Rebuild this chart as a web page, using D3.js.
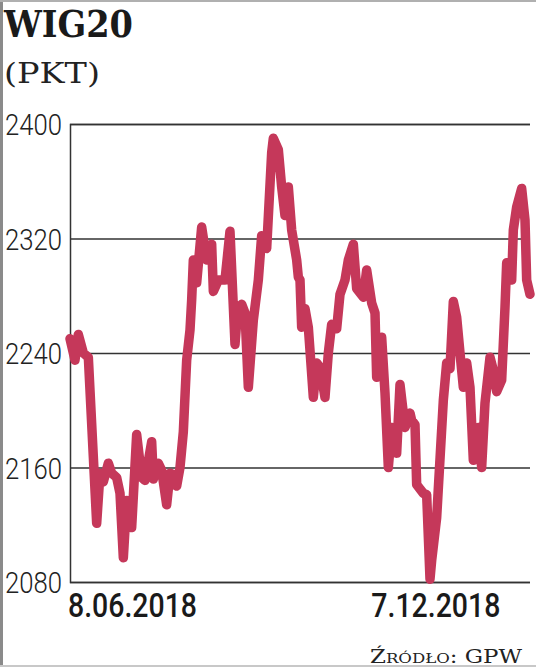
<!DOCTYPE html>
<html>
<head>
<meta charset="utf-8">
<script src="https://cdn.jsdelivr.net/npm/d3@7"></script>
<style>
  body { margin: 0; background: #fff; }
  svg { display: block; }
</style>
</head>
<body>
<svg id="chart" width="536" height="667"></svg>
<script>
// Data: days since 8.06.2018 and WIG20 close (pkt)
const dayOffsets = [0, 3, 5, 8, 11, 16, 18, 20, 23, 25, 28, 30, 32, 34, 37, 40, 43, 45, 49, 50,
    53, 55, 58, 60, 62, 64, 66, 68, 70, 72, 73, 74, 76, 79, 82, 85, 86, 89, 93, 96,
    99, 100, 103, 105, 107, 110, 113, 115, 118, 121, 122, 125, 127, 129, 131, 133, 136, 137, 138, 139,
    141, 143, 146, 148, 150, 153, 155, 157, 160, 162, 165, 167, 170, 172, 174, 176, 178, 181, 183, 184,
    187, 189, 191, 193, 196, 198, 201, 204, 205, 207, 208, 212, 214, 216, 217, 220, 224, 226, 228, 230,
    232, 234, 236, 238, 240, 242, 245, 247, 249, 252, 254, 256, 259, 261, 262, 265, 266, 268, 271, 273,
    274, 276];
const values = [2250, 2235, 2253, 2240, 2237, 2121, 2156, 2150, 2163, 2156, 2153, 2142, 2097, 2137, 2118, 2183, 2153, 2151, 2178, 2152,
    2163, 2158, 2134, 2156, 2155, 2147, 2160, 2185, 2235, 2256, 2277, 2305, 2289, 2328, 2305, 2316, 2283, 2291, 2291, 2325,
    2246, 2261, 2274, 2268, 2216, 2263, 2291, 2322, 2313, 2380, 2390, 2382, 2356, 2336, 2356, 2326, 2305, 2293, 2291, 2258,
    2271, 2258, 2209, 2233, 2230, 2209, 2240, 2260, 2257, 2281, 2291, 2305, 2316, 2285, 2282, 2279, 2298, 2275, 2268, 2223,
    2251, 2212, 2160, 2188, 2170, 2218, 2188, 2198, 2193, 2190, 2148, 2142, 2141, 2082, 2095, 2125, 2207, 2233, 2229, 2276,
    2265, 2240, 2216, 2233, 2216, 2165, 2188, 2160, 2205, 2237, 2228, 2213, 2221, 2272, 2303, 2291, 2326, 2342, 2355, 2333,
    2291, 2281];

const yTicks = [2080, 2160, 2240, 2320, 2400];
const xTickDays = [0, 182];
const xTickLabels = ["8.06.2018", "7.12.2018"];

const svg = d3.select("#chart");
const W = 536, H = 667;
const plot = { left: 70, right: 530, top: 124, bottom: 582 };

// page frame (grey edges of the clipping)
svg.append("line").attr("x1", 1.5).attr("x2", 1.5).attr("y1", 0).attr("y2", H)
    .attr("stroke", "#8a8a8a").attr("stroke-width", 3);
svg.append("line").attr("x1", 0).attr("x2", W).attr("y1", 1).attr("y2", 1)
    .attr("stroke", "#b0b0b0").attr("stroke-width", 2);
svg.append("line").attr("x1", 0).attr("x2", W).attr("y1", H - 1).attr("y2", H - 1)
    .attr("stroke", "#c8c8c8").attr("stroke-width", 2);

// Scales
const x = d3.scaleLinear()
    .domain([0, d3.max(dayOffsets)])
    .range([plot.left, plot.right]);

const y = d3.scaleLinear()
    .domain([2080, 2400])
    .range([plot.bottom, plot.top]);

// Title
svg.append("text")
    .attr("x", 4).attr("y", 37)
    .attr("font-family", "DejaVu Serif")
    .attr("font-weight", "bold")
    .attr("font-size", 37)
    .attr("textLength", 129).attr("lengthAdjust", "spacingAndGlyphs")
    .attr("fill", "#1a1a1a")
    .text("WIG20");

svg.append("text")
    .attr("x", 4).attr("y", 83)
    .attr("font-family", "DejaVu Serif")
    .attr("font-size", 28)
    .attr("textLength", 96).attr("lengthAdjust", "spacingAndGlyphs")
    .attr("fill", "#222")
    .text("(PKT)");

// Grid lines + y labels
const yAxis = d3.axisLeft(y)
    .tickValues(yTicks)
    .tickSize(-(plot.right - plot.left))
    .tickPadding(8)
    .tickFormat(d3.format("d"));

const gy = svg.append("g")
    .attr("transform", `translate(${plot.left},0)`)
    .call(yAxis);
gy.select(".domain").attr("stroke", "#333").attr("stroke-width", 1.5);
gy.selectAll(".tick line").attr("stroke", "#333").attr("stroke-width", 1.6);
gy.selectAll(".tick text")
    .attr("font-family", "Roboto")
    .attr("font-weight", 300)
    .attr("font-size", 30)
    .attr("fill", "#222")
    .attr("x", -8)
    .attr("dy", "0.36em")
    .attr("textLength", 57).attr("lengthAdjust", "spacingAndGlyphs");

// X labels (left aligned at tick date)
svg.append("g")
    .selectAll("text")
    .data(xTickDays)
    .join("text")
    .attr("x", d => x(d) - 2)
    .attr("y", 617)
    .attr("font-family", "Roboto")
    .attr("font-weight", 500)
    .attr("font-size", 33)
    .attr("textLength", 129).attr("lengthAdjust", "spacingAndGlyphs")
    .attr("fill", "#1a1a1a")
    .text((d, i) => xTickLabels[i]);

// The line
const series = dayOffsets.map((d, i) => ({ day: d, value: values[i] }));
const line = d3.line()
    .x(d => x(d.day))
    .y(d => y(d.value));

svg.append("path")
    .datum(series)
    .attr("d", line)
    .attr("fill", "none")
    .attr("stroke", "#c5385a")
    .attr("stroke-width", 9.5)
    .attr("stroke-linejoin", "round")
    .attr("stroke-linecap", "round");

// Source
svg.append("text")
    .attr("x", 370).attr("y", 663)
    .attr("font-family", "DejaVu Serif")
    .attr("font-size", 18)
    .attr("font-variant", "small-caps")
    .attr("textLength", 152).attr("lengthAdjust", "spacingAndGlyphs")
    .attr("fill", "#222")
    .text("Źródło: GPW");
</script>
</body>
</html>
